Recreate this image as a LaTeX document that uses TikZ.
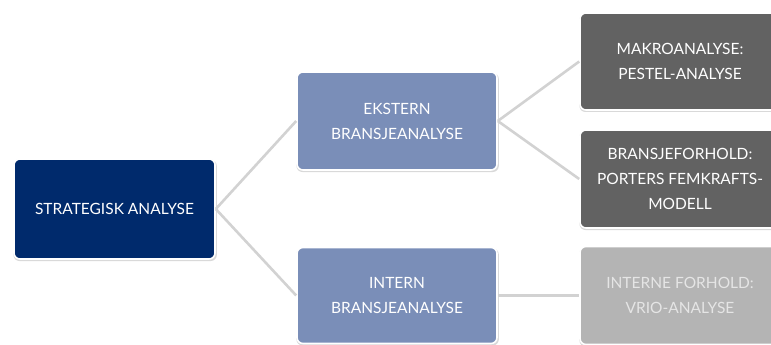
\documentclass[tikz,border=0pt]{standalone}
\usepackage{fontspec}
\setmainfont{Lato}
\usetikzlibrary{shadows}
\definecolor{navy}{HTML}{002A6C}
\definecolor{steel}{HTML}{7A8EB8}
\definecolor{darkgrey}{HTML}{626262}
\definecolor{lightgrey}{HTML}{B4B4B4}
\definecolor{linkgrey}{HTML}{D2D2D2}
\tikzset{
  box/.style={rectangle, rounded corners=6pt, draw=white, line width=1.6pt,
    minimum width=200pt, align=center, font=\fontsize{15.5}{25}\selectfont,
    text=white, drop shadow={shadow xshift=0.6pt, shadow yshift=-1.4pt,
      shadow scale=1.012, opacity=0.3}},
  link/.style={draw=linkgrey, line width=2.6pt}
}
\begin{document}
\begin{tikzpicture}[x=1pt,y=-1pt]
\useasboundingbox (0,0) rectangle (771,345);
\clip (0,0) rectangle (771,345);
\node[box, fill=navy, minimum width=201pt, minimum height=100pt] (strat) at (114.5,209) {STRATEGISK ANALYSE};
\node[box, fill=steel, minimum height=98pt] (ekst) at (397,121) {EKSTERN\\BRANSJEANALYSE};
\node[box, fill=steel, minimum height=96pt] (intern) at (397,295.5) {INTERN\\BRANSJEANALYSE};
\node[box, fill=darkgrey, minimum height=97pt] (makro) at (680,61.5) {MAKROANALYSE:\\PESTEL-ANALYSE};
\node[box, fill=darkgrey, minimum height=98pt] (bransje) at (680,179) {BRANSJEFORHOLD:\\PORTERS FEMKRAFTS-\\MODELL};
\node[box, fill=lightgrey, text=white!90!black, minimum height=98pt] (interne) at (680,295.5) {INTERNE FORHOLD:\\VRIO-ANALYSE};
\draw[link] (strat.east) -- (ekst.west);
\draw[link] (strat.east) -- (intern.west);
\draw[link] (ekst.east) -- (makro.west);
\draw[link] (ekst.east) -- (bransje.west);
\draw[link] (intern.east) -- (interne.west);
\end{tikzpicture}
\end{document}
